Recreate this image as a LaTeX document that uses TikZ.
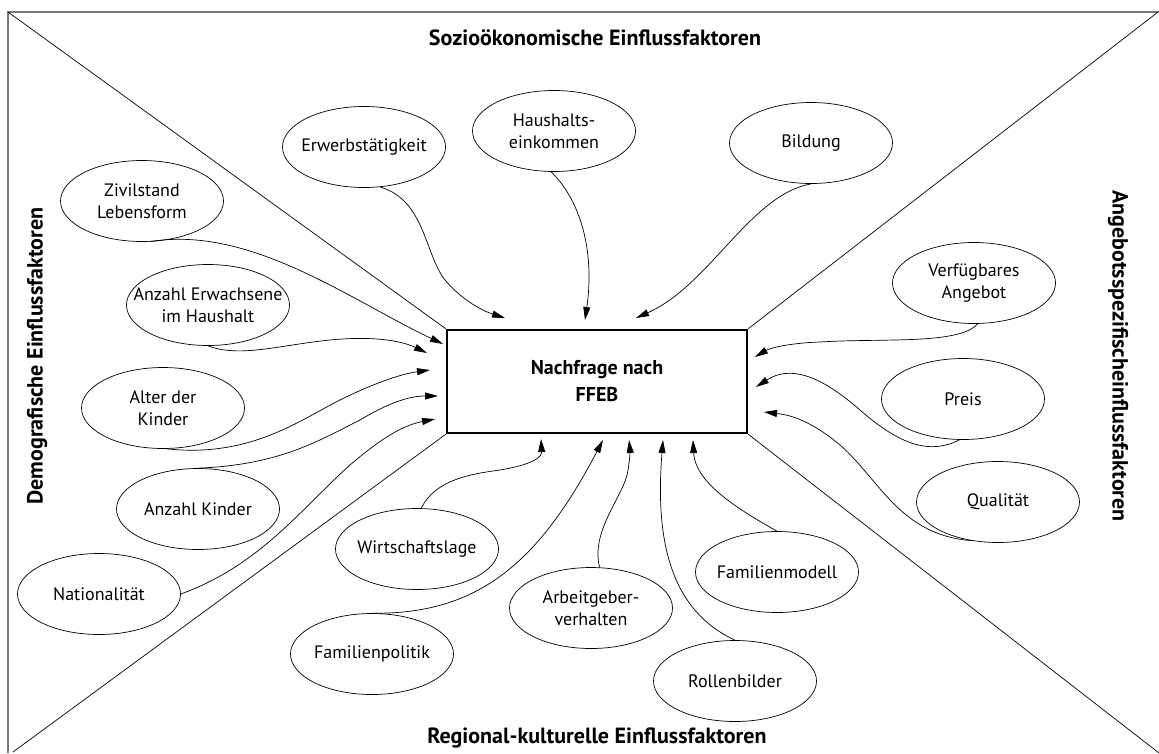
\documentclass[tikz,border=0pt]{standalone}
\usepackage{fontspec}
\setmainfont{PT Sans}
\usetikzlibrary{arrows.meta,shapes.geometric}
\tikzset{
  factor/.style={draw, ellipse, line width=0.7pt, minimum width=163pt, minimum height=81pt, inner xsep=-75pt, inner ysep=0pt, align=center, font=\fontsize{18}{22}\selectfont},
  centerbox/.style={draw, rectangle, line width=2.6pt, minimum width=300pt, minimum height=103pt, align=center, font=\bfseries\fontsize{20}{27}\selectfont},
  conn/.style={line width=0.7pt, -{Triangle[length=13pt,width=7pt]}},
  divider/.style={line width=0.7pt},
  frameline/.style={line width=1.3pt, draw={rgb,255:red,120;green,120;blue,120}},
  group/.style={font=\bfseries\fontsize{22}{26}\selectfont}
}
\begin{document}
\begin{tikzpicture}[x=1pt,y=-1pt]
\useasboundingbox (0,0) rectangle (1159,753);
% frame
\coordinate (ftl) at (8,12);
\coordinate (ftr) at (1159,12);
\coordinate (fbl) at (8,753);
\coordinate (fbr) at (1159,753);
\draw[frameline] (ftr) -- (ftl) -- (fbl);
% central box
\node[centerbox] (box) at (597,381.5) {Nachfrage nach\\FFEB};
% dividers
\coordinate (dtr) at (1158,12);
\coordinate (dbl) at (13,752);
\draw[divider] (ftl) -- (box.north west);
\draw[divider] (dtr) -- (box.north east);
\draw[divider] (dbl) -- (box.south west);
\draw[divider] (fbr) -- (box.south east);
% group titles
\node[group] (tTop) at (595,38) {Sozioökonomische Einflussfaktoren};
\node[group] (tBot) at (597,738) {Regional-kulturelle Einflussfaktoren};
\node[group, rotate=90] (tLeft) at (37,356) {Demografische Einflussfaktoren};
\node[group, rotate=-90] (tRight) at (1118,356) {Angebotsspezifischeinflussfaktoren};
% factors
\node[factor] (erw) at (364,147) {Erwerbstätigkeit};
\node[factor] (hau) at (554,131) {Haushalts-\\einkommen};
\node[factor] (bil) at (811,143) {Bildung};
\node[factor] (ziv) at (142,201) {Zivilstand\\Lebensform};
\node[factor] (erwa) at (208,305) {Anzahl Erwachsene\\im Haushalt};
\node[factor] (alt) at (163,408) {Alter der\\Kinder};
\node[factor] (ank) at (198,509) {Anzahl Kinder};
\node[factor] (nat) at (99,594) {Nationalität};
\node[factor] (wir) at (417,549) {Wirtschaftslage};
\node[factor] (fpo) at (372,654) {Familienpolitik};
\node[factor] (arb) at (591,608) {Arbeitgeber-\\verhalten};
\node[factor] (rol) at (735,681) {Rollenbilder};
\node[factor] (fmo) at (777,572) {Familienmodell};
\node[factor] (ver) at (974,283) {Verfügbares\\Angebot};
\node[factor] (pre) at (963,399) {Preis};
\node[factor] (qua) at (998,502) {Qualität};
% arrow tips
\coordinate (pErw) at (505,318);
\coordinate (pHau) at (585,320);
\coordinate (pBil) at (636,318);
\coordinate (pZiv) at (443,344);
\coordinate (pErwa) at (427,353);
\coordinate (pAlt) at (430,370);
\coordinate (pAnk) at (438,396);
\coordinate (pNat) at (435,419);
\coordinate (pWir) at (541,439);
\coordinate (pFpo) at (603,440);
\coordinate (pArb) at (629,440);
\coordinate (pRol) at (663,440);
\coordinate (pFmo) at (693,440);
\coordinate (pVer) at (755,357);
\coordinate (pPre) at (756,387);
\coordinate (pQua) at (764,412);
% connectors
\draw[conn] (erw.292) .. controls (425,200) and (425,255) .. (445,280) .. controls (460,298) and (480,310) .. (pErw);
\draw[conn] (hau.266) .. controls (580,200) and (595,250) .. (pHau);
\draw[conn] (bil.south) .. controls (750,195) and (710,285) .. (pBil);
\draw[conn] (ziv.281) .. controls (250,225) and (350,300) .. (pZiv);
\draw[conn] (erwa.south) .. controls (240,358) and (280,345) .. (330,340) .. controls (370,336) and (400,340) .. (pErwa);
\draw[conn] (alt.275) .. controls (250,458) and (300,420) .. (340,400) .. controls (370,385) and (400,374) .. (pAlt);
\draw[conn] (ank.north) .. controls (280,465) and (320,440) .. (360,420) .. controls (390,402) and (410,396) .. (pAnk);
\draw[conn] (nat.east) .. controls (260,565) and (300,510) .. (350,465) .. controls (385,435) and (405,425) .. (pNat);
\draw[conn] (wir.84) .. controls (435,480) and (470,474) .. (500,470) .. controls (530,465) and (542,458) .. (pWir);
\draw[conn] (fpo.north) .. controls (480,615) and (540,560) .. (pFpo);
\draw[conn] (arb.78) .. controls (590,530) and (625,495) .. (628,470) .. controls (630,458) and (630,450) .. (pArb);
\draw[conn] (rol.north) .. controls (670,610) and (655,540) .. (pRol);
\draw[conn] (fmo.north) .. controls (730,505) and (695,480) .. (pFmo);
\draw[conn] (ver.275) .. controls (960,345) and (880,338) .. (820,342) .. controls (790,343) and (770,348) .. (pVer);
\draw[conn] (pre.265) .. controls (930,455) and (900,445) .. (860,410) .. controls (820,375) and (790,365) .. (pPre);
\draw[conn] (qua.235) .. controls (900,535) and (880,480) .. (840,445) .. controls (810,420) and (790,415) .. (pQua);
\end{tikzpicture}
\end{document}
